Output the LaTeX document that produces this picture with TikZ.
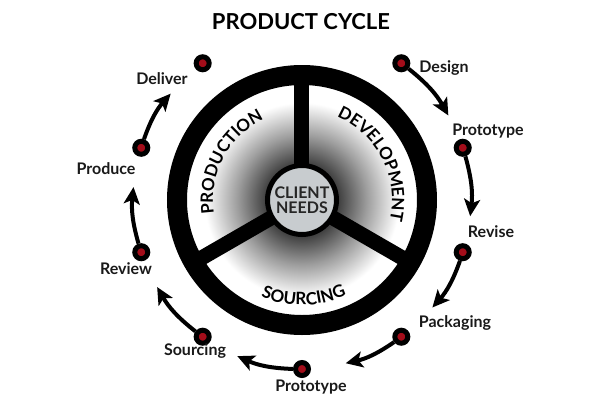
\documentclass[tikz,border=0pt]{standalone}
\usepackage{fontspec}
\setmainfont{Lato}
\usetikzlibrary{arrows.meta,decorations.text}
\definecolor{dotred}{HTML}{A30D1A}
\definecolor{hubgray}{HTML}{C8CCCF}
\pgfdeclareradialshading{wheelshade}{\pgfpoint{0bp}{0bp}}{color(0bp)=(black!78); color(8bp)=(black!74); color(14bp)=(black!38); color(21bp)=(white); color(50bp)=(white)}
\tikzstyle{cdot}=[shape=circle, minimum size=13pt, inner sep=0, draw=black, line width=5pt, fill=dotred]
\tikzstyle{clabel}=[font=\bfseries\fontsize{16}{16}\selectfont, inner sep=0, text=black!90]
\tikzstyle{carrow}=[line width=4pt, -{Stealth[length=17pt, width=16pt, inset=4pt]}]
\tikzstyle{hub}=[shape=circle, minimum size=69pt, inner sep=0, draw=black, line width=5pt, fill=hubgray, align=center, text=black!85, font=\bfseries\fontsize{16}{15}\selectfont]

\begin{document}
\begin{tikzpicture}[x=1pt, y=1pt]
\useasboundingbox (-302,-200) rectangle (298,200);
\node[font=\bfseries\fontsize{22}{22}\selectfont] (title) at (-1,178) {PRODUCT CYCLE};
% wheel
\shade[shading=wheelshade] (0,0) circle (116);
\foreach \a in {90,210,330}
	\draw[line width=15pt] (0,0) -- (\a:120);
\draw[line width=20pt] (0,0) circle (125);
\node[hub] (needs) at (0,0) {CLIENT\\NEEDS};
\path[decorate, decoration={text along path, text align=center,
	text={|\bfseries\fontsize{17}{17}\selectfont|DEVELOPMENT}}]
	(77:90) arc[start angle=77, end angle=-23, radius=90];
\path[decorate, decoration={text along path, text align=center,
	text={|\bfseries\fontsize{17}{17}\selectfont|PRODUCTION}}]
	(202:89) arc[start angle=202, end angle=102, radius=89];
\path[decorate, decoration={text along path, text align=center,
	text={|\bfseries\fontsize{17}{17}\selectfont|SOURCING}}]
	(221:105) arc[start angle=221, end angle=321, radius=105];
% cycle
\foreach \n/\a in {1/54,2/18,3/-18,4/-54,5/-90,6/-126,7/-162,8/162,9/126}
	\node[cdot] (d\n) at (\a:169) {};
\foreach \n/\x/\y/\t in {1/142/132/Design, 2/186/68.5/Prototype, 3/189/-32/Revise,
	4/153/-122.5/Packaging, 5/9/-187/Prototype, 6/-107/-151.5/Sourcing,
	7/-176/-68.5/Review, 8/-196/31/Produce, 9/-140/121/Deliver}
	\node[clabel] (l\n) at (\x,\y) {\t};
\foreach \n/\b in {1/30,2/-5.5,3/-39.5,4/-75,5/-112.5,6/-149,7/175.6,8/141}
	{\coordinate (t\n) at (\b:169);
	\draw[carrow] (d\n) to[bend left=11] (t\n);}
\end{tikzpicture}
\end{document}
